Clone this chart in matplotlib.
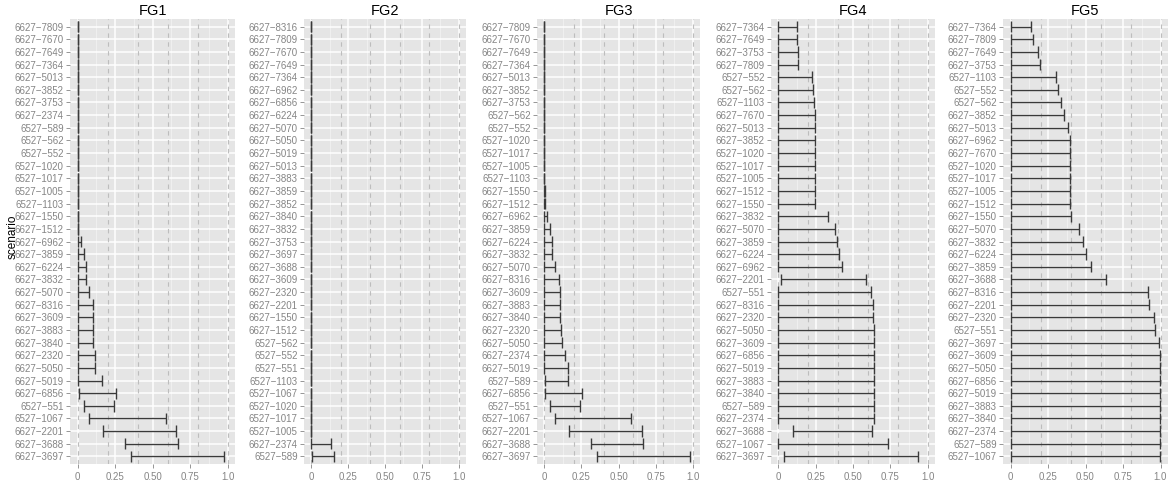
import matplotlib
matplotlib.use("Agg")
import matplotlib.pyplot as plt
import numpy as np

plt.rcParams['font.family'] = ['Liberation Sans', 'DejaVu Sans']

# ---------------- data (listed top to bottom as shown) ----------------
fg1_scen = ["6627-7809","6627-7670","6627-7649","6627-7364","6627-5013","6627-3852","6627-3753",
            "6627-2374","6527-589","6527-562","6527-552","6527-1020","6527-1017","6527-1005",
            "6527-1103","6627-1550","6627-1512","6627-6962","6627-3859","6627-6224","6627-3832",
            "6627-5070","6627-8316","6627-3609","6627-3883","6627-3840","6627-2320","6627-5050",
            "6627-5019","6627-6856","6527-551","6527-1067","6627-2201","6627-3688","6627-3697"]
fg1_lo = [0]*29 + [0.007, 0.042, 0.074, 0.167, 0.315, 0.357]
fg1_hi = [0]*15 + [0.003, 0.003, 0.02, 0.04, 0.054, 0.058, 0.074, 0.10, 0.105, 0.105, 0.105,
                   0.114, 0.118, 0.16, 0.257, 0.245, 0.589, 0.658, 0.667, 0.978]

fg2_scen = ["6627-8316","6627-7809","6627-7670","6627-7649","6627-7364","6627-6962","6627-6856",
            "6627-6224","6627-5070","6627-5050","6627-5019","6627-5013","6627-3883","6627-3859",
            "6627-3852","6627-3840","6627-3832","6627-3753","6627-3697","6627-3688","6627-3609",
            "6627-2320","6627-2201","6627-1550","6627-1512","6527-562","6527-552","6527-551",
            "6527-1103","6527-1067","6527-1020","6527-1017","6527-1005","6627-2374","6527-589"]
fg2_lo = [0]*34 + [0.002]
fg2_hi = [0]*33 + [0.135, 0.157]

fg3_scen = ["6627-7809","6627-7670","6627-7649","6627-7364","6627-5013","6627-3852","6627-3753",
            "6527-562","6527-552","6527-1020","6527-1017","6527-1005","6527-1103","6627-1550",
            "6627-1512","6627-6962","6627-3859","6627-6224","6627-3832","6627-5070","6627-8316",
            "6627-3609","6627-3883","6627-3840","6627-2320","6627-5050","6627-2374","6627-5019",
            "6527-589","6627-6856","6527-551","6527-1067","6627-2201","6627-3688","6627-3697"]
fg3_lo = [0]*28 + [0.004, 0.004, 0.04, 0.071, 0.165, 0.317, 0.355]
fg3_hi = [0]*13 + [0.003, 0.003, 0.018, 0.038, 0.049, 0.054, 0.069, 0.098, 0.105, 0.105, 0.105,
                   0.112, 0.116, 0.138, 0.156, 0.156, 0.254, 0.241, 0.585, 0.658, 0.667, 0.98]

fg4_scen = ["6627-7364","6627-7649","6627-3753","6627-7809","6527-552","6527-562","6527-1103",
            "6627-7670","6627-5013","6627-3852","6527-1020","6527-1017","6527-1005","6627-1512",
            "6627-1550","6627-3832","6627-5070","6627-3859","6627-6224","6627-6962","6627-2201",
            "6527-551","6627-8316","6627-2320","6627-5050","6627-3609","6627-6856","6627-5019",
            "6627-3883","6627-3840","6527-589","6627-2374","6627-3688","6527-1067","6627-3697"]
fg4_lo = [0]*20 + [0.016] + [0]*11 + [0.10, 0.0, 0.038]
fg4_hi = [0.122, 0.127, 0.129, 0.129, 0.227, 0.229, 0.236, 0.242, 0.242, 0.242, 0.242, 0.242,
          0.242, 0.242, 0.247, 0.331, 0.376, 0.396, 0.407, 0.429, 0.587, 0.624, 0.633, 0.633,
          0.64, 0.64, 0.64, 0.64, 0.64, 0.64, 0.64, 0.64, 0.629, 0.738, 0.933]

fg5_scen = ["6627-7364","6627-7809","6627-7649","6627-3753","6527-1103","6527-552","6527-562",
            "6627-3852","6627-5013","6627-6962","6627-7670","6527-1020","6527-1017","6527-1005",
            "6627-1512","6627-1550","6627-5070","6627-3832","6627-6224","6627-3859","6627-3688",
            "6627-8316","6627-2201","6627-2320","6527-551","6627-3697","6627-3609","6627-5050",
            "6627-6856","6627-5019","6627-3883","6627-3840","6627-2374","6527-589","6527-1067"]
fg5_lo = [0]*35
fg5_hi = [0.136, 0.151, 0.185, 0.198, 0.301, 0.314, 0.334, 0.354, 0.381, 0.399, 0.396, 0.396,
          0.396, 0.396, 0.396, 0.403, 0.454, 0.481, 0.501, 0.539, 0.635, 0.915, 0.926, 0.955,
          0.962, 0.989, 0.996, 0.996, 0.998, 0.998, 0.998, 0.998, 0.998, 0.998, 0.998]

titles = ["FG1", "FG2", "FG3", "FG4", "FG5"]
x_ticks = [0, 0.25, 0.5, 0.75, 1.0]
x_ticklabels = ["0", "0.25", "0.50", "0.75", "1.0"]
vline_x = [0, 0.2, 0.4, 0.6, 0.8, 1.0]

panels = [(fg1_scen, fg1_lo, fg1_hi), (fg2_scen, fg2_lo, fg2_hi), (fg3_scen, fg3_lo, fg3_hi),
          (fg4_scen, fg4_lo, fg4_hi), (fg5_scen, fg5_lo, fg5_hi)]

# ---------------- figure ----------------
W, H = 1172, 483
fig = plt.figure(figsize=(W/100, H/100), dpi=100)
fig.patch.set_facecolor('white')

left_px = [70, 304, 537, 771, 1003]
right_px = [235, 466, 700, 935, 1168]
top_px, bot_px = 19, 464

tick_col = '#858585'
line_col = '#3a3a3a'

for i, (scen, lo, hi) in enumerate(panels):
    l = left_px[i] / W
    w = (right_px[i] - left_px[i]) / W
    b = 1 - bot_px / H
    h = (bot_px - top_px) / H
    ax = fig.add_axes([l, b, w, h])
    ax.set_facecolor('#E5E5E5')
    n = len(scen)
    y = np.arange(n)
    lo = np.array(lo, float)
    hi = np.array(hi, float)

    # grid
    for xv in np.arange(0.125, 1.0, 0.25):
        ax.axvline(xv, color='#F2F2F2', lw=0.6, zorder=0.5)
    for xv in x_ticks:
        ax.axvline(xv, color='white', lw=1.1, zorder=0.6)
    for yv in y:
        ax.axhline(yv, color='white', lw=1.1, zorder=0.6)
    for xv in vline_x:
        ax.axvline(xv, color='#BDBDBD', lw=0.8, ls=(0, (4, 4)), zorder=1)

    # error bars (horizontal)
    ax.hlines(y, lo, hi, color=line_col, lw=1.0, zorder=3)
    ax.vlines(lo, y - 0.45, y + 0.45, color=line_col, lw=1.0, zorder=3)
    ax.vlines(hi, y - 0.45, y + 0.45, color=line_col, lw=1.0, zorder=3)

    ax.set_xlim(-0.05, 1.05)
    ax.set_ylim(n - 0.4, -0.6)
    ax.set_yticks(y)
    ax.set_yticklabels([s.replace('-', '\u2212') for s in scen])
    ax.set_xticks(x_ticks)
    ax.set_xticklabels(x_ticklabels)
    ax.tick_params(axis='both', colors=tick_col, labelcolor=tick_col, labelsize=7,
                   length=3, width=0.6, pad=1.5)
    ax.tick_params(axis='x', pad=3)
    for sp in ax.spines.values():
        sp.set_visible(False)
    ax.set_title(titles[i], fontsize=10.5, pad=3, color='black')

fig.text(13 / W, 1 - 237 / H, "scenario", rotation=90, fontsize=8.5, color='black',
         ha='center', va='center')

fig.savefig("out.png", dpi=100)
